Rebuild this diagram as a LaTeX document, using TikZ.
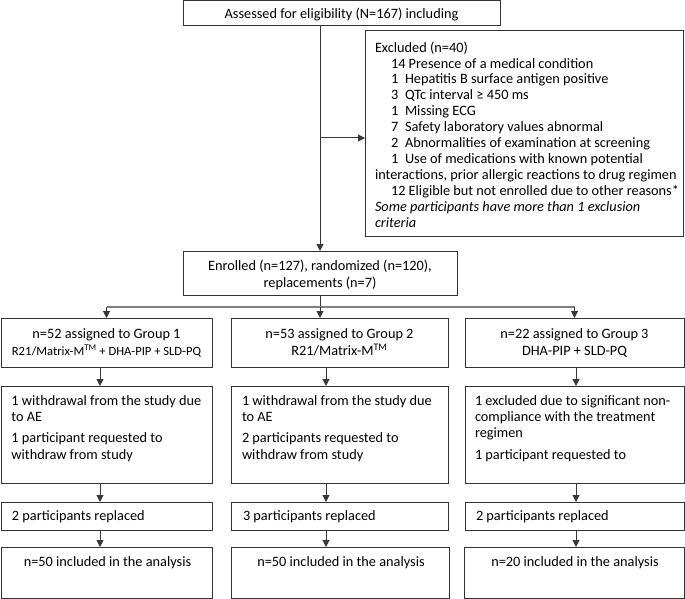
\documentclass[tikz,border=0pt]{standalone}
\usepackage{fontspec}
\setmainfont{Carlito}
\usetikzlibrary{arrows.meta,calc}
\newcommand\fsnorm{\fontsize{14.3}{16.2}\selectfont}
\newcommand\fsexcl{\fontsize{14.3}{15.9}\selectfont}
\newcommand\fsgrp{\fontsize{14.3}{17}\selectfont}
\newcommand\fssmall{\fontsize{12.6}{17}\selectfont}
\begin{document}
\begin{tikzpicture}[x=1pt,y=-1pt,
  box/.style={draw=black!80, line width=1pt, rectangle, inner sep=0pt, outer sep=0pt, anchor=north west, font=\fsnorm},
  arr/.style={draw=black!78, line width=1pt, -{Triangle[length=7pt,width=7pt]}},
  ln/.style={draw=black!78, line width=1pt},
  brl/.style={draw=black!50, line width=1.2pt},
  txt/.style={inner sep=0pt, outer sep=0pt, font=\fsnorm}]
\useasboundingbox (0,0) rectangle (685,599);

% boxes
\node[box, minimum width=317pt, minimum height=25pt] (assess) at (183,1) {};
\node[box, minimum width=318pt, minimum height=205pt] (excl) at (365,31) {};
\node[box, minimum width=274pt, minimum height=44pt] (enr) at (183,251) {};
\node[box, minimum width=211pt, minimum height=49pt] (g1) at (1,318) {};
\node[box, minimum width=217pt, minimum height=49pt] (g2) at (231,318) {};
\node[box, minimum width=219pt, minimum height=49pt] (g3) at (465,318) {};
\node[box, minimum width=211pt, minimum height=97pt] (r1) at (1,386) {};
\node[box, minimum width=217pt, minimum height=97pt] (r2) at (231,386) {};
\node[box, minimum width=219pt, minimum height=97pt] (r3) at (465,386) {};
\node[box, minimum width=211pt, minimum height=28pt] (p1) at (1,502) {};
\node[box, minimum width=217pt, minimum height=28pt] (p2) at (231,502) {};
\node[box, minimum width=219pt, minimum height=28pt] (p3) at (465,502) {};
\node[box, minimum width=211pt, minimum height=51pt] (f1) at (1,547) {};
\node[box, minimum width=218pt, minimum height=51pt] (f2) at (231,547) {};
\node[box, minimum width=220pt, minimum height=51pt] (f3) at (464,547) {};

% texts
\node[txt] (tA) at ($(assess.center)+(0,1)$) {Assessed for eligibility (N=167) including};
\node[txt, anchor=north west, align=left, font=\fsexcl] (tE) at ($(excl.north west)+(10,10)$) {%
\strut Excluded (n=40)\\
\hspace*{16pt}14 Presence of a medical condition\\
\hspace*{16pt}\makebox[14pt][l]{1}Hepatitis B surface antigen positive\\
\hspace*{16pt}\makebox[14pt][l]{3}QTc interval ≥ 450 ms\\
\hspace*{16pt}\makebox[14pt][l]{1}Missing ECG\\
\hspace*{16pt}\makebox[14pt][l]{7}Safety laboratory values abnormal\\
\hspace*{16pt}\makebox[14pt][l]{2}Abnormalities of examination at screening\\
\hspace*{16pt}\makebox[14pt][l]{1}Use of medications with known potential\\
interactions, prior allergic reactions to drug regimen\\
\hspace*{16pt}12 Eligible but not enrolled due to other reasons*\\
\textit{Some participants have more than 1 exclusion}\\
\textit{criteria}};
\node[txt, align=center, font=\fsgrp] (tEn) at ($(enr.center)+(0,2)$) {Enrolled (n=127), randomized (n=120),\\replacements (n=7)};
\node[txt, align=center, font=\fsgrp] (tg1) at (g1.center) {n=52 assigned to Group 1\\{\fssmall R21/Matrix-M\textsuperscript{TM} + DHA-PIP + SLD-PQ}};
\node[txt, align=center, font=\fsgrp] (tg2) at (g2.center) {n=53 assigned to Group 2\\R21/Matrix-M\textsuperscript{TM}};
\node[txt, align=center, font=\fsgrp] (tg3) at (g3.center) {n=22 assigned to Group 3\\DHA-PIP + SLD-PQ};
\node[txt, anchor=north west, align=left] (tr1) at ($(r1.north west)+(10.5,8.2)$) {\strut 1 withdrawal from the study due\\to AE\\[5pt]1 participant requested to\\withdraw from study};
\node[txt, anchor=north west, align=left] (tr2) at ($(r2.north west)+(11,8.2)$) {\strut 1 withdrawal from the study due\\to AE\\[5pt]2 participants requested to\\withdraw from study};
\node[txt, anchor=north west, align=left] (tr3) at ($(r3.north west)+(10,8.2)$) {\strut 1 excluded due to significant non-\\compliance with the treatment\\regimen\\[5pt]1 participant requested to};
\node[txt, anchor=base west] (tp1) at ($(p1.north west)+(11,18)$) {2 participants replaced};
\node[txt, anchor=base west] (tp2) at ($(p2.north west)+(12,18)$) {3 participants replaced};
\node[txt, anchor=base west] (tp3) at ($(p3.north west)+(11,18)$) {2 participants replaced};
\node[txt, anchor=base] (tf1) at ($(f1.north)+(1,19)$) {n=50 included in the analysis};
\node[txt, anchor=base] (tf2) at ($(f2.north)+(1,19)$) {n=50 included in the analysis};
\node[txt, anchor=base] (tf3) at ($(f3.north)+(1,19)$) {n=20 included in the analysis};

% connectors
\coordinate (ex) at (320,138);
\coordinate (bc) at (320,307);
\coordinate (c1) at (100,0);
\coordinate (c2) at (326,0);
\coordinate (c3) at (576,0);
\draw[arr] (assess.south -| enr.north) -- (enr.north);
\draw[arr] (ex) -- (ex -| excl.west);
\draw[ln] (enr.south) -- (bc);
\draw[brl] (g1.north |- bc) -- (g3.north |- bc);
\draw[arr] (g1.north |- bc) -- (g1.north);
\draw[arr] (bc) -- (bc |- g2.north);
\draw[arr] (g3.north |- bc) -- (g3.north);
\draw[arr] (g1.south -| c1) -- (r1.north -| c1);
\draw[arr] (g2.south -| c2) -- (r2.north -| c2);
\draw[arr] (g3.south -| c3) -- (r3.north -| c3);
\draw[arr] (r1.south -| c1) -- (p1.north -| c1);
\draw[arr] (r2.south -| c2) -- (p2.north -| c2);
\draw[arr] (r3.south -| c3) -- (p3.north -| c3);
\draw[arr] (p1.south -| c1) -- (f1.north -| c1);
\draw[arr] (p2.south -| c2) -- (f2.north -| c2);
\draw[arr] (p3.south -| c3) -- (f3.north -| c3);
\end{tikzpicture}
\end{document}
